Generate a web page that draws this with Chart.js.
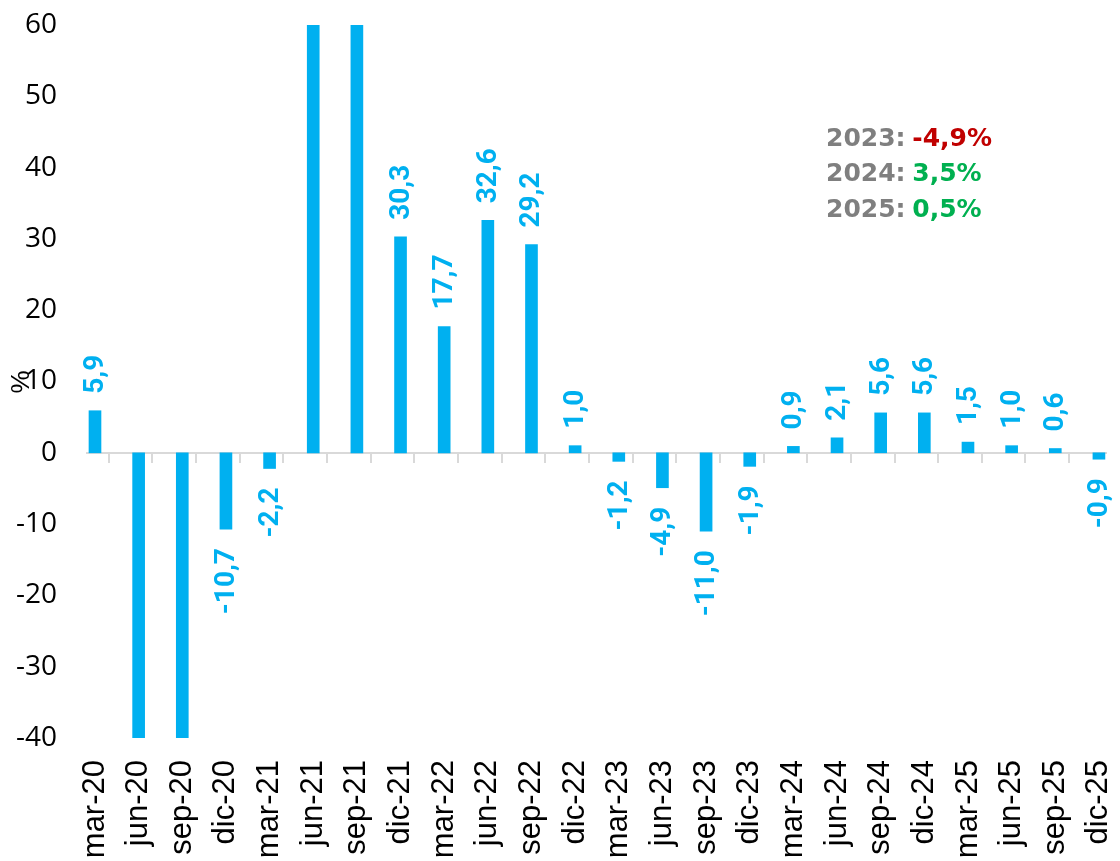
<!DOCTYPE html>
<html>
<head>
<meta charset="utf-8">
<script src="https://cdn.jsdelivr.net/npm/chart.js@4.4.1/dist/chart.umd.min.js"></script>
<style>
  html, body { margin: 0; padding: 0; background: #fff; }
  #wrap { width: 1120px; height: 861px; }
</style>
</head>
<body>
<div id="wrap"><canvas id="myChart" width="1120" height="861"></canvas></div>
<script>
// quarters on the x axis
var quarters = ['mar-20', 'jun-20', 'sep-20', 'dic-20', 'mar-21', 'jun-21', 'sep-21', 'dic-21',
  'mar-22', 'jun-22', 'sep-22', 'dic-22', 'mar-23', 'jun-23', 'sep-23', 'dic-23',
  'mar-24', 'jun-24', 'sep-24', 'dic-24', 'mar-25', 'jun-25', 'sep-25', 'dic-25']
// % change, bars that run off the chart are clipped (values past the axis are guesses)
var growth = [5.9, -50, -46, -10.7, -2.2, 75, 68, 30.3,
  17.7, 32.6, 29.2, 1.0, -1.2, -4.9, -11.0, -1.9,
  0.9, 2.1, 5.6, 5.6, 1.5, 1.0, 0.6, -0.9]
// y axis
var yMin = -40
var yMax = 60
var yStep = 10
// yearly figures in the box
var boxYears = ['2023', '2024', '2025']
var boxValues = [-4.9, 3.5, 0.5]

var barColor = '#00b0f0'
var xMax = 23.345      // last category is cut at the right edge
var barShift = 0.183   // bars sit left of the category middle

function fmt(v) {
    return v.toFixed(1).replace('.', ',')
}

// rotated value labels over / under each bar
var barLabels = {
    id: 'barLabels',
    afterDatasetsDraw(chart) {
        const ctx = chart.ctx
        const meta = chart.getDatasetMeta(0)
        ctx.save()
        ctx.font = 'bold 28px Roboto'
        ctx.fillStyle = barColor
        ctx.textBaseline = 'middle'
        meta.data.forEach((bar, i) => {
            const v = growth[i]
            if (v > yMax || v < yMin) return
            ctx.save()
            if (v >= 0) {
                ctx.translate(bar.x, bar.y - 17)
                ctx.rotate(-Math.PI / 2)
                ctx.textAlign = 'left'
            } else {
                ctx.translate(bar.x, bar.y + 19)
                ctx.rotate(-Math.PI / 2)
                ctx.textAlign = 'right'
            }
            ctx.fillText(fmt(v), 0, 1)
            ctx.restore()
        })
        ctx.restore()
    }
}

// "%" title and the yearly summary text
var extras = {
    id: 'extras',
    afterDraw(chart) {
        const ctx = chart.ctx
        ctx.save()
        ctx.fillStyle = '#000'
        ctx.font = '26px "Liberation Sans"'
        ctx.translate(22, 382)
        ctx.rotate(-Math.PI / 2)
        ctx.textAlign = 'center'
        ctx.textBaseline = 'middle'
        ctx.fillText('%', 0, 0)
        ctx.restore()

        ctx.save()
        ctx.font = 'bold 25px "DejaVu Sans"'
        ctx.textBaseline = 'middle'
        ctx.textAlign = 'left'
        boxYears.forEach((yr, i) => {
            const y = 139 + i * 35.5
            const head = yr + ': '
            ctx.fillStyle = '#7f7f7f'
            ctx.fillText(head, 826, y)
            const w = ctx.measureText(head).width
            ctx.fillStyle = boxValues[i] < 0 ? '#c00000' : '#00b050'
            ctx.fillText(fmt(boxValues[i]) + '%', 826 + w - 2, y)
        })
        ctx.restore()
    }
}

function noPad(scale) {
    scale.paddingLeft = 0
    scale.paddingRight = 0
    scale.paddingTop = 0
    scale.paddingBottom = 0
}

var ctx = document.getElementById('myChart').getContext('2d')
var chart = new Chart(ctx, {
    type: 'bar',
    data: {
        datasets: [{
            label: '%',
            data: growth.map((v, i) => ({ x: i + barShift, y: v })),
            backgroundColor: barColor,
            barThickness: 12,
            xAxisID: 'x',
            yAxisID: 'y'
        }]
    },
    options: {
        responsive: false,
        animation: false,
        layout: { padding: { top: 25, right: 14, left: 0, bottom: 0 } },
        plugins: {
            legend: { display: false },
            tooltip: { enabled: false }
        },
        scales: {
            x: {
                type: 'linear',
                position: 'bottom',
                offset: false,
                min: 0,
                max: xMax,
                grid: { display: false, drawTicks: false },
                border: { display: false },
                ticks: {
                    stepSize: 1,
                    includeBounds: false,
                    autoSkip: false,
                    minRotation: 90,
                    maxRotation: 90,
                    labelOffset: 8,
                    padding: 22,
                    color: '#000',
                    font: { family: '"Liberation Sans", Arial, sans-serif', size: 31 },
                    callback: (value) => quarters[value]
                },
                afterFit(scale) {
                    scale.height = 123
                    noPad(scale)
                }
            },
            x2: {
                type: 'linear',
                position: { y: 0 },
                offset: false,
                min: 0,
                max: xMax,
                grid: {
                    drawOnChartArea: false,
                    drawTicks: true,
                    tickLength: 9,
                    color: '#d9d9d9',
                    lineWidth: 2
                },
                border: { display: true, color: '#d9d9d9', width: 2 },
                ticks: { display: false, stepSize: 1, includeBounds: false },
                afterFit: noPad
            },
            y: {
                min: yMin,
                max: yMax,
                grid: { display: false, drawTicks: false },
                border: { display: false },
                ticks: {
                    stepSize: yStep,
                    padding: 30,
                    color: '#000',
                    font: { family: '"Open Sans"', size: 28 }
                },
                afterFit(scale) {
                    scale.width = 87
                    noPad(scale)
                }
            }
        }
    },
    plugins: [barLabels, extras]
})
</script>
</body>
</html>
